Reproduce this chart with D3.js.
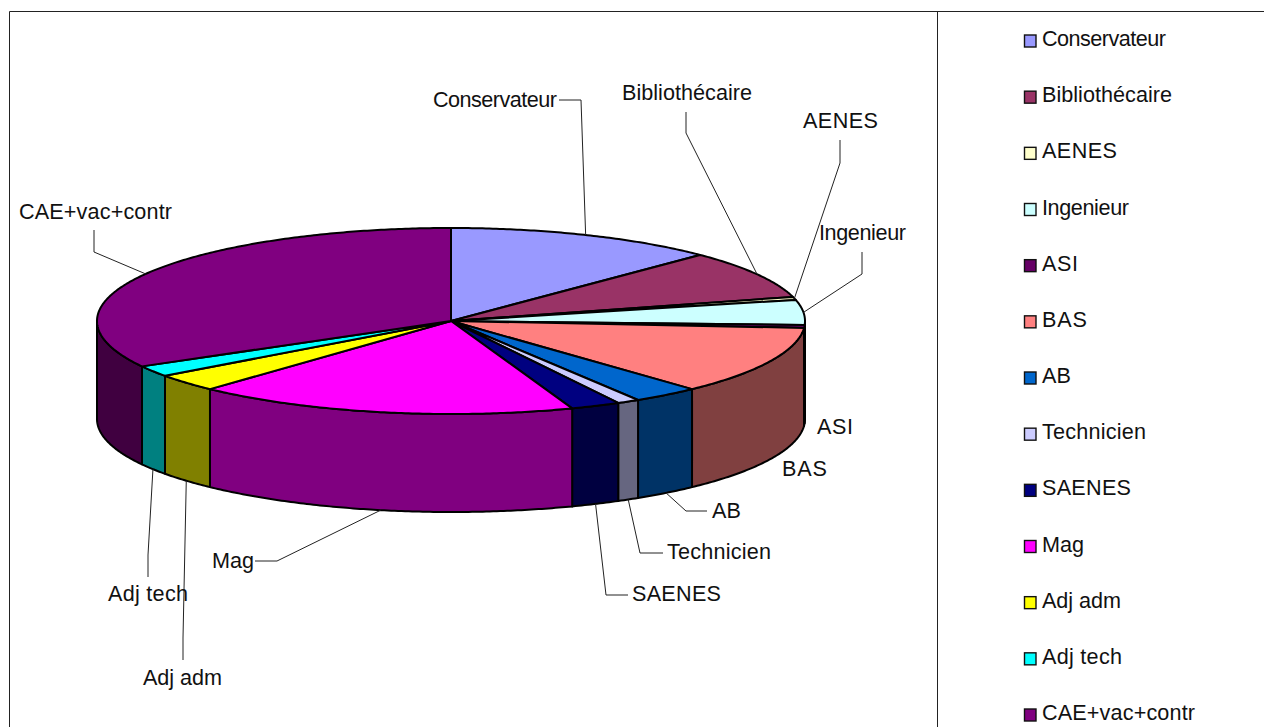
<!DOCTYPE html>
<html>
<head>
<meta charset="utf-8">
<script src="https://cdn.jsdelivr.net/npm/d3@7/dist/d3.min.js"></script>
<style>
html,body{margin:0;padding:0;background:#fff;overflow:hidden}
svg{display:block}
text{font-family:"Liberation Sans",Arial,sans-serif;font-size:21.6px;fill:#111}
</style>
</head>
<body>
<svg id="c" width="1264" height="727"></svg>
<script>
const categories = ["Conservateur","Bibliothécaire","AENES","Ingenieur","ASI","BAS","AB","Technicien","SAENES","Mag","Adj adm","Adj tech","CAE+vac+contr"];
const values = [12.42,8.41,0.53,4.33,0.5,11.89,3.06,1.03,2.27,17.48,3.05,1.92,33.11];
const topColors = ["#9999FF","#993366","#FFFFCC","#CCFFFF","#660066","#FF8080","#0066CC","#CCCCFF","#000080","#FF00FF","#FFFF00","#00FFFF","#800080"];

// Layout only (label anchors, leader elbows, drawn text widths)
const labelAnchor = [[433,107],[622,100],[803,128],[819,240],[817,434],[782,476],[712,518],[667,559],[632,601],[212,568],[143,685],[108,601],[19,219]];
const leaderStart = [[559,100],[686,112],[840,140],[862,252],null,null,[707,511],[663,553],[628,595],[255,561],[183,660],[148,577],[94,230]];
const leaderElbow = [[581,100],[686,133],[840,163],[862,274],null,null,[686,511],[640,553],[606,595],[277,561],[183,638],[148,555],[94,252]];
const textWidth = [124,130,75,87,36,45,29,104,89,42,79,80,153];

const cx=451, cy=321, rx=354, ry=93, depth=98;
const svg=d3.select("#c");
const px=d3.scaleLinear().domain([-1,1]).range([cx-rx,cx+rx]);
const py=d3.scaleLinear().domain([-1,1]).range([cy-ry,cy+ry]);
const rim=a=>[px(Math.sin(a)),py(-Math.cos(a))];
const line=d3.line();
const samples=(a0,a1)=>{const n=Math.max(2,Math.ceil(Math.abs(a1-a0)/0.01));return d3.range(n+1).map(i=>a0+(a1-a0)*i/n);};

// frame
svg.append("path").attr("d","M9.5,727V11.5H1264M937.5,11.5V727").attr("fill","none").attr("stroke","#222").attr("stroke-width",1);

const arcs=d3.pie().sort(null).value(d=>d)(values);

// side walls (front half only)
const PI=Math.PI;
arcs.forEach((d,i)=>{
  const a0=Math.max(d.startAngle,PI/2), a1=Math.min(d.endAngle,3*PI/2);
  if(a1<=a0) return;
  const top=samples(a0,a1).map(rim);
  const bottom=top.slice().reverse().map(p=>[p[0],p[1]+depth]);
  const c=d3.rgb(topColors[i]);
  const wall=d3.rgb(c.r/2,c.g/2,c.b/2);
  svg.append("path").attr("d",line(top.concat(bottom))+"Z")
    .attr("fill",wall.formatHex()).attr("stroke","#000").attr("stroke-width",2).attr("stroke-linejoin","round");
});

// top slices
arcs.forEach((d,i)=>{
  const pts=[[cx,cy]].concat(samples(d.startAngle,d.endAngle).map(rim));
  svg.append("path").attr("d",line(pts)+"Z")
    .attr("fill",topColors[i]).attr("stroke","#000").attr("stroke-width",2).attr("stroke-linejoin","round");
});

// leaders: the free end is derived from each slice's mid angle
arcs.forEach((d,i)=>{
  if(!leaderStart[i]) return;
  const mid=(d.startAngle+d.endAngle)/2, p=rim(mid);
  const front=Math.cos(mid)<0;
  const end=[p[0],p[1]+(front?depth:0)];
  svg.append("path").attr("d",line([leaderStart[i],leaderElbow[i],end]))
    .attr("fill","none").attr("stroke","#222").attr("stroke-width",1);
});

// labels
svg.selectAll("text.lab").data(categories).join("text").attr("class","lab")
  .attr("x",(d,i)=>labelAnchor[i][0]).attr("y",(d,i)=>labelAnchor[i][1])
  .attr("textLength",(d,i)=>textWidth[i]).attr("lengthAdjust","spacing").text(d=>d);

// legend
const ly=d3.scalePoint().domain(categories).range([46,720]);
const lg=svg.append("g");
categories.forEach((c,i)=>{
  lg.append("rect").attr("x",1024.5).attr("y",ly(c)-11).attr("width",11.5).attr("height",12)
    .attr("fill",topColors[i]).attr("stroke","#111").attr("stroke-width",1.4);
  lg.append("text").attr("x",1042).attr("y",ly(c)).attr("textLength",textWidth[i]).attr("lengthAdjust","spacing").text(c);
});
</script>
</body>
</html>
